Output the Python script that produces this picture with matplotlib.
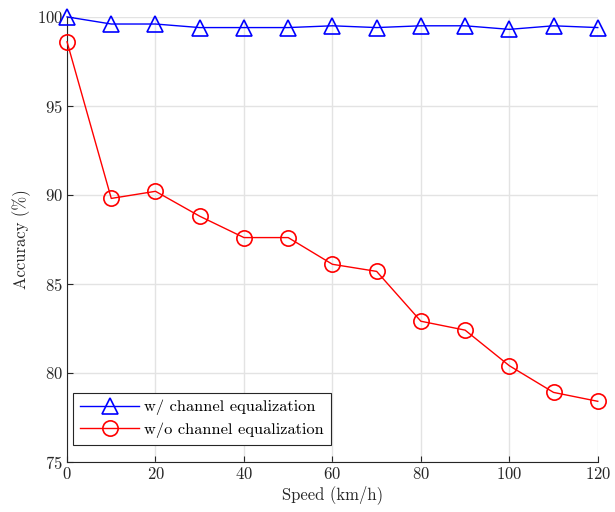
import matplotlib
matplotlib.use('Agg')
import matplotlib.pyplot as plt

speed = [0, 10, 20, 30, 40, 50, 60, 70, 80, 90, 100, 110, 120]
acc_eq = [100.0, 99.6, 99.6, 99.4, 99.4, 99.4, 99.5, 99.4, 99.5, 99.5, 99.3, 99.5, 99.4]
acc_no_eq = [98.6, 89.8, 90.2, 88.8, 87.6, 87.6, 86.1, 85.7, 82.9, 82.4, 80.4, 78.9, 78.4]

plt.rcParams['font.family'] = 'serif'
plt.rcParams['font.serif'] = ['cmr10']
plt.rcParams['mathtext.fontset'] = 'cm'
plt.rcParams['axes.formatter.use_mathtext'] = True
plt.rcParams['font.size'] = 12

fig = plt.figure(figsize=(6.15, 5.12), dpi=100)
ax = fig.add_axes([0.109, 0.098, 0.863, 0.869])

ax.plot(speed, acc_eq, color='blue', marker='^', markersize=12, markerfacecolor='none',
        markeredgewidth=1.2, linewidth=1.0, label='w/ channel equalization', clip_on=False, zorder=3)
ax.plot(speed, acc_no_eq, color='red', marker='o', markersize=11, markerfacecolor='none',
        markeredgewidth=1.2, linewidth=1.0, label='w/o channel equalization', clip_on=False, zorder=3)

ax.set_xlim(0, 120)
ax.set_ylim(75, 100)
ax.set_xticks(range(0, 121, 20))
ax.set_yticks(range(75, 101, 5))
ax.grid(True, color='#e3e3e3', linewidth=1.0)
ax.set_axisbelow(True)

for s in ['top', 'right']:
    ax.spines[s].set_visible(False)
for s in ['left', 'bottom']:
    ax.spines[s].set_color('#262626')
ax.tick_params(direction='in', length=4, colors='#262626', labelsize=12, pad=3)

ax.set_xlabel('Speed (km/h)', color='#262626', labelpad=2)
ax.set_ylabel('Accuracy (%)', color='#262626', labelpad=4)

leg = ax.legend(loc='lower left', bbox_to_anchor=(0.011, 0.038), borderaxespad=0, fancybox=False,
                edgecolor='#262626', framealpha=1, handlelength=3.6, handletextpad=0.3,
                fontsize=11.8, borderpad=0.45, labelspacing=0.4)
leg.get_frame().set_linewidth(0.8)

fig.savefig('out.png', dpi=100)
